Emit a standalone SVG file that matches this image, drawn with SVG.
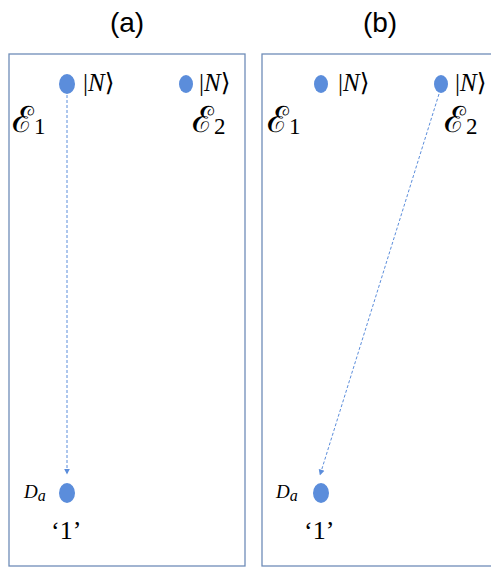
<svg xmlns="http://www.w3.org/2000/svg" width="491" height="567" viewBox="0 0 491 567">
<style>
.frame{fill:#fff;stroke:#6f8db8;stroke-width:1.3}
.dot{fill:#5b8ddb}
.title{font-family:"Liberation Sans",Arial,sans-serif;font-size:28px;fill:#000;text-anchor:middle}
.ket{font-family:"Liberation Serif","DejaVu Serif",serif;font-size:25px;fill:#000}
.ket .n{font-style:italic}
.env{font-family:"DejaVu Serif","Liberation Serif",serif;font-size:36px;fill:#000}
.sub{font-family:"Liberation Serif",serif;font-size:23px}
.da{font-family:"Liberation Serif",serif;font-style:italic;font-size:19px;fill:#000}
.one{font-family:"Liberation Serif",serif;font-size:26px;fill:#000}
.conn{stroke:#5b8ddb;stroke-width:1;stroke-dasharray:3 2;fill:none}
</style>
<defs>
<marker id="ah" viewBox="0 0 10 10" refX="9" refY="5" markerWidth="6" markerHeight="7" orient="auto" markerUnits="userSpaceOnUse">
<path d="M0,0 L10,5 L0,10 z" fill="#5b8ddb"/>
</marker>
</defs>
<text class="title" x="127" y="32">(a)</text>
<text class="title" x="380" y="32">(b)</text>
<rect class="frame" x="9" y="54" width="236" height="512"/>
<rect class="frame" x="262" y="54" width="240" height="512"/>
<g id="a-N1">
<ellipse class="dot" cx="67" cy="84" rx="8" ry="10"/>
<text class="ket" x="83" y="91">|<tspan class="n">N</tspan>⟩</text>
</g>
<g id="a-N2">
<ellipse class="dot" cx="186" cy="84" rx="7" ry="9"/>
<text class="ket" x="199" y="91">|<tspan class="n">N</tspan>⟩</text>
</g>
<text class="env" x="12" y="132">ℰ<tspan class="sub" dy="2">1</tspan></text>
<text class="env" x="192" y="132">ℰ<tspan class="sub" dy="2">2</tspan></text>
<g id="a-Da">
<ellipse class="dot" cx="67" cy="493" rx="8" ry="10"/>
<text class="da" x="24" y="498">D<tspan font-size="16" dy="3">a</tspan></text>
<text class="one" x="51" y="539">‘1’</text>
</g>
<g id="b-N1">
<ellipse class="dot" cx="321" cy="84" rx="7" ry="9"/>
<text class="ket" x="338" y="91">|<tspan class="n">N</tspan>⟩</text>
</g>
<g id="b-N2">
<ellipse class="dot" cx="441" cy="84" rx="7" ry="9"/>
<text class="ket" x="455" y="91">|<tspan class="n">N</tspan>⟩</text>
</g>
<text class="env" x="267" y="132">ℰ<tspan class="sub" dy="2">1</tspan></text>
<text class="env" x="444" y="132">ℰ<tspan class="sub" dy="2">2</tspan></text>
<g id="b-Da">
<ellipse class="dot" cx="321" cy="493" rx="8" ry="10"/>
<text class="da" x="276" y="498">D<tspan font-size="16" dy="3">a</tspan></text>
<text class="one" x="304" y="539">‘1’</text>
</g>
<g id="connectors">
<line class="conn" x1="67" y1="95" x2="67" y2="474" marker-end="url(#ah)"/>
<line class="conn" x1="439" y1="94" x2="320" y2="475" marker-end="url(#ah)"/>
</g>
</svg>
